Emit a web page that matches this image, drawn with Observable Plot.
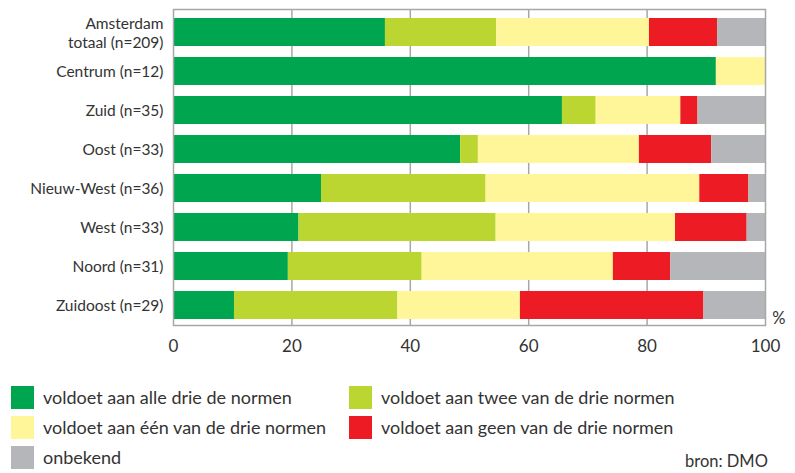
<!DOCTYPE html>
<html>
<head>
<meta charset="utf-8">
<script src="https://cdn.jsdelivr.net/npm/d3@7"></script>
<script src="https://cdn.jsdelivr.net/npm/@observablehq/plot@0.6"></script>
<style>
  html, body { margin: 0; padding: 0; background: #fff; }
  body { width: 795px; height: 473px; position: relative; overflow: hidden; font-family: Lato, "Open Sans", sans-serif; color: #333; }
  #chart { position: absolute; left: 0; top: 0; }
  .leg { position: absolute; font-size: 18px; color: #333; white-space: nowrap; }
  .sw { position: absolute; width: 23px; height: 23px; }
  .lt { position: absolute; line-height: 23px; }
  #src { position: absolute; left: 685px; top: 451px; font-size: 16.5px; line-height: 20px; color: #333; }
</style>
</head>
<body>
<div id="chart"></div>
<div id="legend"></div>
<div id="src">bron: DMO</div>
<script>
const categories = [
  "Amsterdam\ntotaal (n=209)",
  "Centrum (n=12)",
  "Zuid (n=35)",
  "Oost (n=33)",
  "Nieuw-West (n=36)",
  "West (n=33)",
  "Noord (n=31)",
  "Zuidoost (n=29)"
];
const seriesNames = [
  "voldoet aan alle drie de normen",
  "voldoet aan twee van de drie normen",
  "voldoet aan één van de drie normen",
  "voldoet aan geen van de drie normen",
  "onbekend"
];
const seriesColors = ["#00a54f", "#bcd631", "#fef699", "#ed1c24", "#b5b6b9"];
const alleDrie = [35.8, 91.7, 65.7, 48.5, 25.0, 21.2, 19.4, 10.3];
const tweeVanDrie = [18.8, 0, 5.7, 3.0, 27.8, 33.3, 22.6, 27.6];
const eenVanDrie = [25.8, 8.3, 14.3, 27.2, 36.1, 30.3, 32.3, 20.7];
const geenVanDrie = [11.5, 0, 2.9, 12.2, 8.3, 12.1, 9.7, 31.0];
const onbekend = [8.1, 0, 11.4, 9.1, 2.8, 3.1, 16.0, 10.4];
const xTicks = [0, 20, 40, 60, 80, 100];
const gridTicks = [20, 40, 60, 80];

const seriesValues = [alleDrie, tweeVanDrie, eenVanDrie, geenVanDrie, onbekend];
const rows = [];
seriesNames.forEach((s, si) => {
  categories.forEach((c, ci) => {
    rows.push({category: c, series: s, value: seriesValues[si][ci]});
  });
});

const chart = Plot.plot({
  width: 795,
  height: 360,
  marginLeft: 173,
  marginRight: 30,
  marginTop: 9,
  marginBottom: 35,
  style: {fontFamily: "Lato, 'Open Sans', sans-serif", fontSize: "16px", color: "#333", background: "transparent"},
  x: {domain: [0, 100], ticks: xTicks, tickSize: 0, tickPadding: 14, label: null},
  y: {domain: categories, paddingInner: 0.27, paddingOuter: 0.13, align: 0.6, tickSize: 0, tickPadding: 10, label: null},
  color: {domain: seriesNames, range: seriesColors},
  marks: [
    Plot.ruleX(gridTicks, {stroke: "#a7a7a7", strokeWidth: 1.5}),
    Plot.barX(rows, Plot.stackX({y: "category", x: "value", fill: "series", order: null})),
    Plot.frame({stroke: "#a7a7a7", strokeWidth: 1.5}),
    Plot.axisX({ticks: xTicks, tickSize: 0, tickPadding: 14, fontSize: 17, fill: "#333", anchor: "bottom"}),
    Plot.axisY({tickSize: 0, tickPadding: 10, fontSize: 15.5, fill: "#333", lineHeight: 1.2}),
    Plot.text(["%"], {frameAnchor: "bottom-right", dx: 20, dy: -2, fontSize: 16.5, fill: "#333"})
  ]
});
document.getElementById("chart").appendChild(chart);

const legendPos = [
  [11, 386], [349, 386], [11, 416], [349, 416], [11, 446]
];
const legend = document.getElementById("legend");
seriesNames.forEach((s, i) => {
  const [lx, ly] = legendPos[i];
  const sw = document.createElement("div");
  sw.className = "sw";
  sw.style.left = lx + "px";
  sw.style.top = ly + "px";
  sw.style.background = seriesColors[i];
  legend.appendChild(sw);
  const t = document.createElement("div");
  t.className = "lt leg";
  t.style.left = (lx + 32) + "px";
  t.style.top = ly + "px";
  t.textContent = s;
  legend.appendChild(t);
});
</script>
</body>
</html>
